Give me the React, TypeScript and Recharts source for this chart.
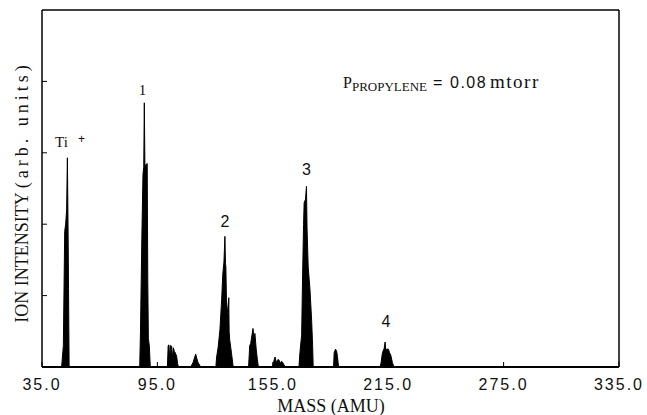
import { AreaChart, Area, XAxis, YAxis } from "recharts";

// spectrum: mass (AMU) and ion intensity (tick units)
const massAmu = [
  35,
  45.2, 46.1, 46.8, 47.3, 47.8, 48.2, 48.5, 48.8, 49.1,
  85.8, 86.2, 86.9, 87.5, 87.9, 88.2, 88.5, 89.7, 90.0, 90.3, 90.8, 91.3,
  100.2, 100.6, 101.0, 101.4, 101.8, 102.4, 102.8, 103.3, 103.8, 104.3, 105.0, 105.5, 105.9,
  112.3, 113.5, 114.9, 116.0, 117.5,
  125.4, 125.8, 126.6, 127.5, 128.4, 129.0, 129.6, 130.1, 130.4, 130.6, 130.9, 131.4, 131.8, 132.1, 132.3, 132.6, 133.5, 134.4,
  142.4, 143.0, 143.5, 144.2, 144.7, 145.2, 145.7, 146.4, 147.0, 147.5,
  154.8, 155.5, 156.2, 156.8, 157.5, 158.2, 158.8, 159.5, 160.0, 160.8, 161.7,
  168.6, 169.1, 170.0, 170.5, 171.0, 171.3, 172.0, 172.5, 172.8, 173.4, 174.3, 175.2, 175.7, 176.0,
  186.6, 186.9, 187.6, 188.2, 188.6, 189.2,
  210.8, 211.3, 212.0, 212.9, 213.4, 213.7, 214.2, 215.1, 215.7, 216.3, 217.2, 218.0,
  335,
];

const ionIntensity = [
  0,
  0, 0.3, 1.9, 2.0, 2.2, 2.93, 2.1, 1.1, 0,
  0, 0.5, 1.8, 2.7, 2.8, 3.7, 2.82, 2.85, 1.2, 0.4, 0.3, 0,
  0, 0.3, 0.31, 0.1, 0.3, 0.29, 0.12, 0.27, 0.22, 0.2, 0.15, 0.05, 0,
  0, 0.06, 0.18, 0.07, 0,
  0, 0.14, 0.28, 0.52, 0.94, 1.3, 1.47, 1.83, 1.45, 1.4, 0.94, 0.8, 0.7, 0.97, 0.5, 0.38, 0.2, 0,
  0, 0.3, 0.33, 0.45, 0.54, 0.4, 0.47, 0.24, 0.1, 0,
  0, 0.08, 0.14, 0.06, 0.1, 0.1, 0.05, 0.08, 0.07, 0.03, 0,
  0, 0.2, 0.45, 1.3, 2.0, 2.3, 2.35, 2.53, 1.95, 1.4, 1.1, 0.65, 0.3, 0,
  0, 0.2, 0.25, 0.22, 0.15, 0,
  0, 0.06, 0.2, 0.26, 0.35, 0.24, 0.25, 0.25, 0.2, 0.17, 0.06, 0,
  0,
];

const massTicks = [35, 95, 155, 215, 275, 335];
const intensityTicks = [1, 2, 3, 4];

const data = massAmu.map((m, i) => ({ mass: m, intensity: ionIntensity[i] }));

const serif = '"Liberation Serif", "Times New Roman", serif';
const sans = '"Liberation Sans", Arial, sans-serif';

export default function App() {
  return (
    <div style={{ position: "absolute", left: 0, top: 0, background: "#fff" }}>
      <AreaChart
        width={647}
        height={415}
        data={data}
        margin={{ top: 0, right: 0, bottom: 0, left: 0 }}
      >
        <XAxis
          dataKey="mass"
          type="number"
          domain={[35, 335]}
          ticks={massTicks}
          allowDataOverflow
          tickFormatter={(v) => Number(v).toFixed(1)}
          height={48}
          axisLine={{ stroke: "#000", strokeWidth: 2 }}
          tickLine={{ stroke: "#000" }}
          tickSize={-5}
          tickMargin={17}
          tick={{ fill: "#111", fontSize: 16, fontFamily: sans, letterSpacing: 2 }}
        />
        <XAxis
          xAxisId="top"
          orientation="top"
          type="number"
          domain={[35, 335]}
          height={10}
          tick={false}
          tickLine={false}
          axisLine={{ stroke: "#000", strokeWidth: 1.5 }}
        />
        <YAxis
          type="number"
          domain={[0, 5]}
          ticks={intensityTicks}
          width={42}
          tickFormatter={() => ""}
          tickSize={-5}
          axisLine={{ stroke: "#000", strokeWidth: 1.5 }}
          tickLine={{ stroke: "#000", strokeWidth: 1 }}
        />
        <YAxis
          yAxisId="right"
          orientation="right"
          type="number"
          domain={[0, 5]}
          ticks={intensityTicks}
          width={28}
          tickFormatter={() => ""}
          tickSize={-5}
          axisLine={{ stroke: "#000", strokeWidth: 1.5 }}
          tickLine={{ stroke: "#000", strokeWidth: 1 }}
        />
        <Area
          dataKey="intensity"
          type="linear"
          stroke="#000"
          strokeWidth={1}
          fill="#000"
          fillOpacity={1}
          isAnimationActive={false}
        />

        <text
          x={28}
          y={192}
          transform="rotate(-90, 28, 192)"
          textAnchor="middle"
          fontFamily={serif}
          fontSize={18}
          fill="#111"
        >
          ION INTENSITY <tspan letterSpacing={4}>(arb. units)</tspan>
        </text>
        <text x={331} y={412} textAnchor="middle" fontFamily={serif} fontSize={18} fill="#111">
          MASS (AMU)
        </text>

        <text x={55} y={147} fontFamily={serif} fontSize={15} fill="#111">
          Ti<tspan x={78} y={143} fontFamily={sans} fontSize={12}>+</tspan>
        </text>
        <text x={142.5} y={95} textAnchor="middle" fontFamily={serif} fontSize={14} fill="#000">1</text>
        <text x={225} y={227} textAnchor="middle" fontFamily={sans} fontSize={16} fill="#111">2</text>
        <text x={306.5} y={175} textAnchor="middle" fontFamily={sans} fontSize={16} fill="#111">3</text>
        <text x={386} y={327} textAnchor="middle" fontFamily={sans} fontSize={16} fill="#111">4</text>

        <text x={343} y={88} fontFamily={serif} fontSize={16} fill="#111">
          P<tspan y={91} fontSize={13}>PROPYLENE</tspan>
          <tspan x={433} y={88} fontFamily={sans} fontSize={16}>=</tspan>
          <tspan x={450} y={88} fontFamily={sans} fontSize={16} letterSpacing={1.5}>0.08</tspan>
          <tspan x={490} y={88} fontSize={19} letterSpacing={1.5}>mtorr</tspan>
        </text>
      </AreaChart>
    </div>
  );
}
